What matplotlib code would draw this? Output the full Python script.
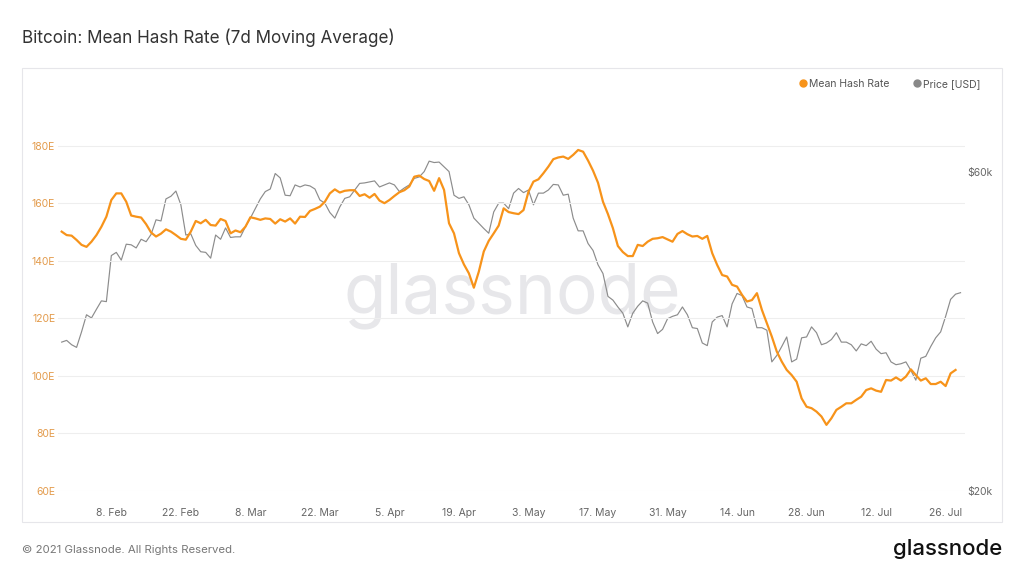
import matplotlib
matplotlib.use('Agg')
import matplotlib.pyplot as plt
import matplotlib.dates as mdates
import numpy as np
import pandas as pd
from matplotlib.lines import Line2D
from matplotlib.patches import Rectangle
from matplotlib.ticker import NullLocator

# Bitcoin mean hash rate (7d MA, EH/s) vs price, Jan 29 - Jul 29 2021
hash_start = '2021-01-29'
hash_rate = [
    150.2, 149.0, 148.8, 147.3, 145.6, 144.9, 146.7, 149.0, 151.9, 155.4,
    161.2, 163.5, 163.5, 160.6, 155.8, 155.4, 155.1, 152.8, 149.9, 148.5,
    149.5, 151.0, 150.2, 149.0, 147.7, 147.4, 150.2, 153.9, 153.1, 154.3,
    152.5, 152.3, 154.6, 153.9, 149.6, 150.6, 150.0, 151.9, 155.2, 154.8,
    154.3, 154.8, 154.6, 153.0, 154.5, 153.7, 154.8, 153.0, 155.4, 155.3,
    157.4, 158.1, 158.9, 160.6, 163.5, 164.9, 163.8, 164.4, 164.6, 164.6,
    162.6, 163.2, 162.0, 163.3, 161.0, 160.1, 161.2, 162.6, 163.9, 164.6,
    165.9, 169.3, 169.7, 168.5, 167.8, 164.4, 168.8, 164.7, 153.1, 149.6,
    142.7, 138.8, 135.7, 130.7, 136.3, 143.3, 147.0, 149.6, 152.3, 158.3,
    157.0, 156.6, 156.3, 157.7, 164.1, 167.6, 168.4, 170.5, 172.8, 175.4,
    176.0, 176.3, 175.5, 176.9, 178.6, 178.0, 174.9, 171.4, 167.2, 160.6,
    156.3, 151.4, 145.2, 143.1, 141.7, 141.7, 145.6, 145.2, 146.7, 147.7,
    147.9, 148.3, 147.5, 146.7, 149.4, 150.4, 149.3, 148.5, 148.7, 147.7,
    148.7, 142.7, 138.6, 135.1, 134.6, 131.7, 131.1, 128.2, 125.9, 126.4,
    128.8, 123.0, 118.3, 113.7, 108.5, 105.0, 102.1, 100.3, 98.0, 92.2,
    89.3, 88.8, 87.6, 85.9, 83.0, 85.3, 88.2, 89.3, 90.5, 90.5,
    91.7, 92.8, 95.1, 95.7, 94.9, 94.5, 98.6, 98.4, 99.5, 98.4,
    99.8, 102.3, 100.3, 98.4, 99.2, 97.2, 97.2, 98.0, 96.5, 100.9,
    102.1,
]

price_start = '2021-01-29'
price_k = [
    33.4, 33.6, 33.1, 32.8, 34.6, 36.7, 36.3, 37.4, 38.5, 38.4,
    45.0, 45.5, 44.3, 46.8, 46.7, 46.2, 47.6, 47.2, 48.4, 50.9,
    50.7, 54.7, 55.2, 56.2, 53.6, 48.3, 48.5, 46.6, 45.6, 45.5,
    44.6, 48.3, 47.6, 49.5, 47.9, 48.0, 48.0, 49.7, 51.2, 52.9,
    54.7, 56.1, 56.6, 59.7, 58.8, 55.4, 55.3, 57.4, 57.0, 57.4,
    57.2, 56.6, 54.5, 53.9, 52.2, 51.2, 53.2, 54.8, 55.1, 56.4,
    57.7, 57.8, 58.0, 58.2, 57.0, 57.4, 57.8, 57.4, 56.1, 56.8,
    57.4, 58.7, 59.0, 60.1, 62.3, 62.0, 62.1, 61.1, 60.1, 55.4,
    54.8, 55.1, 53.6, 51.2, 50.3, 49.4, 48.6, 52.3, 53.9, 53.9,
    52.9, 55.8, 56.7, 55.9, 56.4, 53.6, 55.8, 55.8, 56.4, 57.5,
    57.4, 55.4, 55.6, 51.2, 49.0, 49.0, 46.9, 45.8, 43.6, 42.3,
    39.1, 38.6, 37.7, 36.9, 35.2, 36.9, 37.8, 38.5, 38.2, 35.8,
    34.4, 34.9, 36.2, 36.5, 36.7, 37.7, 36.7, 35.1, 35.0, 33.3,
    33.0, 35.8, 36.4, 36.6, 35.2, 38.1, 39.5, 39.2, 37.7, 37.5,
    35.1, 35.1, 34.8, 31.2, 31.9, 32.9, 34.0, 31.2, 31.5, 33.9,
    34.0, 35.2, 34.5, 33.1, 33.3, 33.7, 34.5, 33.4, 33.4, 33.1,
    32.4, 33.2, 33.0, 33.5, 32.6, 32.1, 32.2, 31.2, 30.9, 31.0,
    31.2, 30.3, 29.3, 31.6, 31.8, 32.9, 33.9, 34.6, 36.5, 38.7,
    39.4, 39.6,
]

tick_dates = ['2021-02-08', '2021-02-22', '2021-03-08', '2021-03-22', '2021-04-05',
              '2021-04-19', '2021-05-03', '2021-05-17', '2021-05-31', '2021-06-14',
              '2021-06-28', '2021-07-12', '2021-07-26']
hash_ticks = [60, 80, 100, 120, 140, 160, 180]
price_ticks = [20000, 60000]

hash_df = pd.DataFrame({'date': pd.date_range(hash_start, periods=len(hash_rate), freq='D'),
                        'hash': hash_rate})
price_df = pd.DataFrame({'date': pd.date_range(price_start, periods=len(price_k), freq='D'),
                         'price': np.array(price_k) * 1000})

orange = '#f7931a'
label_orange = '#e39b4c'
grey_line = '#8c8c8c'
text_grey = '#666666'

plt.rcParams['font.family'] = ['Inter', 'DejaVu Sans']

fig = plt.figure(figsize=(10.24, 5.76), dpi=100)
fig.patch.set_facecolor('white')

# chart frame
fig.add_artist(Rectangle((22 / 1024, 1 - 522 / 576), 980 / 1024, 454 / 576,
                         transform=fig.transFigure, fill=False,
                         edgecolor='#e6e6ea', lw=0.8))

# watermark
fig.text(512 / 1024, 1 - 296 / 576, 'glassnode', ha='center', va='center',
         fontsize=50, color='#e7e7ea', zorder=-1)

ax = fig.add_axes([58 / 1024, 1 - 491 / 576, (965 - 58) / 1024, (491 - 110) / 576])
ax2 = ax.twinx()
ax.set_zorder(ax2.get_zorder() + 1)
ax.patch.set_visible(False)
ax2.patch.set_visible(False)

ax2.plot(price_df['date'], price_df['price'], color=grey_line, lw=0.85)
ax2.set_yscale('log')
ax2.set_ylim(20000, 74300)
ax2.set_yticks(price_ticks)
ax2.set_yticklabels(['$20k', '$60k'])
ax2.yaxis.set_minor_locator(NullLocator())
ax2.tick_params(axis='y', length=0, pad=2, labelsize=7.5, labelcolor=text_grey)

ax.plot(hash_df['date'], hash_df['hash'], color=orange, lw=1.6)
ax.set_ylim(60, 192.5)
ax.set_yticks(hash_ticks)
ax.set_yticklabels([f'{v}E' for v in hash_ticks])
ax.tick_params(axis='y', length=0, pad=2, labelsize=7.5, labelcolor=label_orange)
ax.grid(axis='y', color='#eeeeee', lw=0.8)

x0 = pd.Timestamp('2021-01-29')
ax.set_xlim(x0 - pd.Timedelta(days=0.74), x0 + pd.Timedelta(days=181.9))
ax.set_xticks(pd.to_datetime(tick_dates))
ax.xaxis.set_major_formatter(mdates.DateFormatter('%-d. %b'))
ax.tick_params(axis='x', length=0, pad=12, labelsize=7.5, labelcolor=text_grey)

for a in (ax, ax2):
    for s in a.spines.values():
        s.set_visible(False)

handles = [Line2D([], [], marker='o', ls='none', color=orange, markersize=5),
           Line2D([], [], marker='o', ls='none', color='#888888', markersize=5)]
fig.legend(handles, ['Mean Hash Rate', 'Price [USD]'], loc='center right',
           bbox_to_anchor=(990 / 1024, 1 - 84 / 576), ncol=2, frameon=False,
           fontsize=7.5, handletextpad=0.2, columnspacing=2.2, handlelength=0.8,
           labelcolor='#555555')

fig.text(22 / 1024, 1 - 38 / 576, 'Bitcoin: Mean Hash Rate (7d Moving Average)',
         ha='left', va='center', fontsize=12.3, color='#333333')
fig.text(22 / 1024, 1 - 550 / 576, '\u00a9 2021 Glassnode. All Rights Reserved.',
         ha='left', va='center', fontsize=8.2, color='#777777')
fig.text(1002 / 1024, 1 - 549 / 576, 'glassnode', ha='right', va='center',
         fontsize=16, color='#111111', fontweight='medium')

fig.savefig('out.png', dpi=100)
